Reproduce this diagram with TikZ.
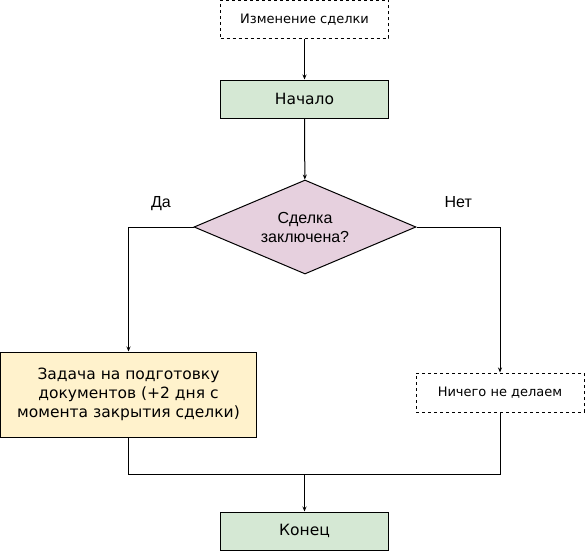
\documentclass[tikz,border=0pt]{standalone}
\usepackage{fontspec}
\setmainfont{DejaVu Sans}
\newfontfamily\arialfont{Liberation Sans}
\usetikzlibrary{positioning, shapes.geometric, arrows.meta}
\definecolor{xgreen}{HTML}{D5E8D4}
\definecolor{xpink}{HTML}{E6D0DE}
\definecolor{xyellow}{HTML}{FFF2CC}
\tikzset{
  block/.style = {rectangle, draw=black, line width=1pt, fill=#1, inner sep=0pt, align=center, font=\fontsize{15.5}{19}\selectfont},
  ghost/.style = {rectangle, draw=black, line width=1pt, dash pattern=on 3pt off 3pt, inner sep=0pt, align=center, font=\fontsize{13}{15}\selectfont},
  decision/.style = {diamond, aspect=2.36, draw=black, line width=1pt, fill=xpink, inner sep=0pt, align=center, font=\arialfont\fontsize{16}{19}\selectfont},
  link/.style = {line width=1pt, -{Stealth[length=5pt, width=4pt]}},
  plain/.style = {line width=1pt},
  answer/.style = {font=\arialfont\fontsize{16}{19}\selectfont, text height=12pt, text depth=4pt},
}

\begin{document}
\begin{tikzpicture}[x=1pt, y=-1pt]
      \useasboundingbox (0,0) rectangle (585,551);

      \node[ghost, minimum width=168pt, minimum height=38pt] (change) at (304.5,19.5) {Изменение сделки};
      \node[block=xgreen, minimum width=168pt, minimum height=38pt] (start) at (304.5,99) {Начало};
      \node[decision, minimum width=222pt, minimum height=94pt] (deal) at (305,227) {Сделка\\заключена?};

      \node[block=xyellow, minimum width=256pt, minimum height=85pt] (task) at (128.5,394.5) {Задача на подготовку\\документов (+2 дня с\\момента закрытия сделки)};
      \node[ghost, minimum width=168pt, minimum height=39pt] (nothing) at (500,392.5) {Ничего не делаем};
      \node[block=xgreen, minimum width=168pt, minimum height=38pt] (finish) at (304.5,531) {Конец};

      \coordinate (merge) at (304.5,474);

      \draw[link] (change) -- (start);
      \draw[link] (start) -- (deal);
      \draw[link] (deal.west) -| (task.north) node[pos=0.25, above=12pt, answer] {Да};
      \draw[link] (deal.east) -| (nothing.north) node[pos=0.25, above=12pt, answer] {Нет};
      \draw[plain] (task.south) |- (merge);
      \draw[plain] (nothing.south) |- (merge);
      \draw[link] (merge) -- (finish);
    \end{tikzpicture}
\end{document}
